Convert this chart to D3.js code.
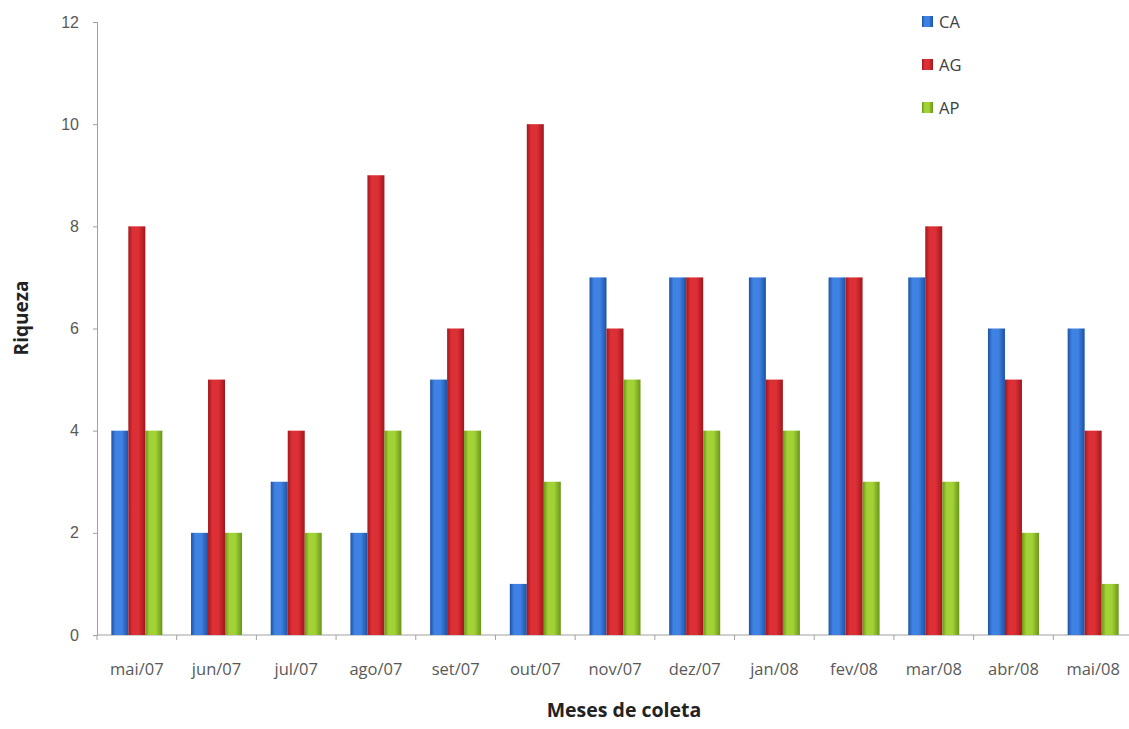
<!DOCTYPE html>
<html><head><meta charset="utf-8">
<script src="https://cdn.jsdelivr.net/npm/d3@7"></script>
<style>
html,body{margin:0;padding:0;background:#fff;}
svg{display:block;font-family:"Open Sans","Liberation Sans",sans-serif;}
</style></head>
<body>
<svg id="c" width="1129" height="729"></svg>
<script>
const months = ["mai/07","jun/07","jul/07","ago/07","set/07","out/07","nov/07","dez/07","jan/08","fev/08","mar/08","abr/08","mai/08"];
const seriesNames = ["CA","AG","AP"];
const CA = [4,2,3,2,5,1,7,7,7,7,7,6,6];
const AG = [8,5,4,9,6,10,6,7,5,7,8,5,4];
const AP = [4,2,2,4,4,3,5,4,4,3,3,2,1];
const yTicks = [0,2,4,6,8,10,12];
const colors = {CA:["#1d52a3","#3f82e4"], AG:["#a3161c","#dc3036"], AP:["#6a9618","#a2d236"]};

const values = {CA, AG, AP};
const svg = d3.select("#c");
const mLeft = 97, mRight = 1133, mTop = 22, mBottom = 635;

const x0 = d3.scaleBand().domain(months).range([mLeft, mRight]).paddingInner(0.36).paddingOuter(0.18);
const x1 = d3.scaleBand().domain(seriesNames).range([0, x0.bandwidth()]);
const y = d3.scaleLinear().domain([0, 12]).range([mBottom, mTop]);

const defs = svg.append("defs");
seriesNames.forEach(s => {
  const g = defs.append("linearGradient").attr("id", "g" + s).attr("x1", 0).attr("x2", 1).attr("y1", 0).attr("y2", 0);
  g.append("stop").attr("offset", "0%").attr("stop-color", colors[s][0]);
  g.append("stop").attr("offset", "25%").attr("stop-color", colors[s][1]);
  g.append("stop").attr("offset", "60%").attr("stop-color", colors[s][1]);
  g.append("stop").attr("offset", "100%").attr("stop-color", colors[s][0]);
});

// Y axis
const yAxis = svg.append("g").attr("transform", `translate(${mLeft},0)`)
  .call(d3.axisLeft(y).tickValues(yTicks).tickSize(4).tickPadding(14));
yAxis.select(".domain").attr("stroke", "#a0a0a0");
yAxis.selectAll(".tick line").attr("stroke", "#a0a0a0");
yAxis.selectAll("text").attr("font-size", 16).attr("fill", "#595959");

// X axis
const xAxisG = svg.append("g").attr("transform", `translate(0,${mBottom})`);
xAxisG.append("line").attr("x1", mLeft).attr("x2", mRight).attr("y1", 0).attr("y2", 0).attr("stroke", "#a0a0a0");
const step = x0.step();
xAxisG.selectAll("line.tk").data(d3.range(months.length + 1)).join("line").attr("class", "tk")
  .attr("x1", i => mLeft + i * step).attr("x2", i => mLeft + i * step)
  .attr("y1", 0).attr("y2", 5).attr("stroke", "#a0a0a0");
xAxisG.selectAll("text").data(months).join("text")
  .attr("x", d => x0(d) + x0.bandwidth() / 2).attr("y", 40)
  .attr("text-anchor", "middle").attr("font-size", 16.5).attr("fill", "#595959").text(d => d);

// Bars
const groups = svg.append("g").selectAll("g").data(months).join("g")
  .attr("transform", d => `translate(${x0(d)},0)`);
groups.selectAll("rect").data((d, i) => seriesNames.map(s => ({s, v: values[s][i]}))).join("rect")
  .attr("x", d => x1(d.s)).attr("width", x1.bandwidth())
  .attr("y", d => y(d.v)).attr("height", d => y(0) - y(d.v))
  .attr("fill", d => `url(#g${d.s})`);

// Legend
const leg = svg.append("g");
seriesNames.forEach((s, i) => {
  const ly = 21.5 + i * 43;
  leg.append("rect").attr("x", 922).attr("y", ly - 5.5).attr("width", 11).attr("height", 11).attr("fill", `url(#g${s})`);
  leg.append("text").attr("x", 939).attr("y", ly + 6).attr("font-size", 16.5).attr("fill", "#404040").text(s);
});

// Titles
svg.append("text").attr("transform", `translate(28,318) rotate(-90)`)
  .attr("text-anchor", "middle").attr("font-size", 19).attr("font-weight", "bold").attr("fill", "#222").text("Riqueza");
svg.append("text").attr("x", 624).attr("y", 717).attr("text-anchor", "middle")
  .attr("font-size", 19.5).attr("font-weight", "bold").attr("fill", "#222").text("Meses de coleta");
</script>
</body></html>
